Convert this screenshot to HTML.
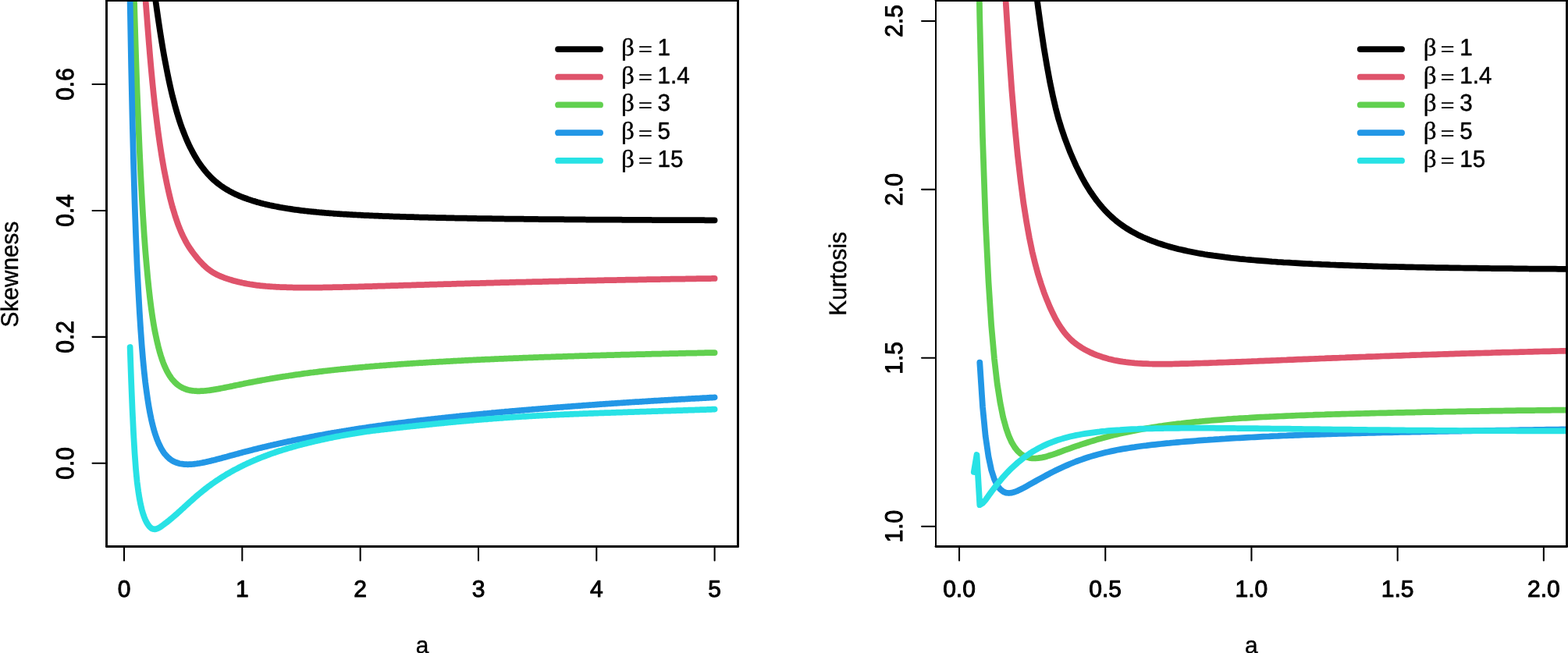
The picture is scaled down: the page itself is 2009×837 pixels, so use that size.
<!DOCTYPE html>
<html><head><meta charset="utf-8"><title>Skewness and Kurtosis</title>
<style>
html,body{margin:0;padding:0;background:#fff;}
body{width:2009px;height:837px;overflow:hidden;}
svg{display:block;}
text{font-family:"Liberation Sans",sans-serif;font-size:30px;fill:#000;stroke:#000;stroke-linejoin:round;text-rendering:geometricPrecision;}
.tk{stroke-width:1.0px;}
.ttl{font-size:29.8px;stroke-width:0.4px;}
.num{font-size:29.6px;stroke-width:0.5px;}
.eq{font-family:"Liberation Serif",serif;font-size:30px;stroke-width:0.5px;}
.beta{font-family:"Liberation Serif",serif;font-size:31.2px;stroke-width:0.4px;}
.c path{fill:none;stroke-width:7.75;stroke-linecap:round;stroke-linejoin:round;}
.ax{stroke:#000;stroke-width:2.05;stroke-linecap:round;fill:none;}
.box line{stroke:#000;stroke-linecap:round;}
.lg line{stroke-width:7.75;stroke-linecap:round;}
</style></head><body>
<svg width="2009" height="837" viewBox="0 0 2009 837">
<rect width="2009" height="837" fill="#fff"/>
<defs>
<clipPath id="cl"><rect x="136.5" y="0.55" width="809.0" height="700.0"/></clipPath>
<clipPath id="cr"><rect x="1199.03" y="0.5" width="808.47" height="699.95"/></clipPath>
</defs>

<g class="c" clip-path="url(#cl)">
<path d="M187.5,-90.0 L187.8,-88.1 L189.3,-76.4 L190.8,-64.6 L192.3,-52.7 L193.8,-40.8 L195.3,-29.1 L196.8,-17.6 L198.3,-6.3 L199.9,4.7 L201.4,15.4 L202.9,25.7 L204.4,35.8 L205.9,45.5 L207.4,54.8 L208.9,63.8 L210.4,72.4 L212.0,80.7 L213.5,88.6 L215.0,96.2 L216.5,103.5 L218.0,110.4 L219.5,117.0 L221.0,123.3 L222.6,129.3 L224.1,135.0 L225.6,140.4 L227.1,145.6 L228.6,150.5 L230.1,155.2 L231.6,159.7 L233.1,163.9 L234.7,168.0 L236.2,171.9 L237.7,175.6 L239.2,179.2 L240.7,182.6 L242.2,185.9 L243.7,189.0 L245.3,192.0 L246.8,194.9 L248.3,197.6 L249.8,200.3 L251.3,202.8 L252.8,205.2 L254.3,207.6 L255.8,209.8 L257.4,212.0 L258.9,214.0 L260.4,216.0 L261.9,217.9 L263.4,219.8 L264.9,221.5 L266.4,223.2 L268.0,224.8 L269.5,226.4 L271.0,227.9 L272.5,229.4 L274.0,230.8 L275.5,232.1 L277.0,233.4 L278.5,234.6 L280.1,235.8 L281.6,237.0 L283.1,238.1 L284.6,239.1 L286.1,240.2 L287.6,241.1 L289.1,242.1 L290.6,243.0 L292.2,243.9 L293.7,244.8 L295.2,245.6 L296.7,246.4 L298.2,247.2 L299.7,247.9 L301.2,248.7 L302.8,249.4 L304.3,250.0 L305.8,250.7 L307.3,251.4 L308.8,252.0 L310.3,252.6 L311.8,253.2 L313.3,253.7 L314.9,254.3 L316.4,254.8 L317.9,255.4 L319.4,255.9 L320.9,256.4 L322.4,256.9 L323.9,257.4 L325.5,257.8 L327.0,258.3 L328.5,258.7 L330.0,259.2 L331.5,259.6 L333.0,260.0 L334.5,260.4 L336.0,260.8 L337.6,261.2 L339.1,261.5 L340.6,261.9 L342.1,262.3 L343.6,262.6 L345.1,263.0 L346.6,263.3 L348.1,263.6 L349.7,263.9 L351.2,264.2 L352.7,264.5 L354.2,264.8 L355.7,265.1 L357.2,265.4 L358.7,265.7 L360.3,266.0 L361.8,266.2 L363.3,266.5 L364.8,266.7 L366.3,267.0 L367.8,267.2 L369.3,267.5 L370.8,267.7 L372.4,267.9 L373.9,268.1 L375.4,268.4 L376.9,268.6 L378.4,268.8 L379.9,269.0 L381.4,269.2 L383.0,269.4 L384.5,269.6 L386.0,269.8 L387.5,270.0 L389.0,270.1 L390.5,270.3 L392.0,270.5 L393.5,270.6 L395.1,270.8 L396.6,271.0 L398.1,271.1 L399.6,271.3 L401.1,271.4 L402.6,271.6 L404.1,271.7 L405.7,271.9 L407.2,272.0 L408.7,272.2 L410.2,272.3 L411.7,272.4 L413.2,272.6 L414.7,272.7 L416.2,272.8 L417.8,273.0 L419.3,273.1 L420.8,273.2 L422.3,273.3 L423.8,273.4 L425.3,273.5 L426.8,273.6 L428.3,273.8 L429.9,273.9 L431.4,274.0 L432.9,274.1 L434.4,274.2 L435.9,274.3 L437.4,274.4 L438.9,274.5 L440.5,274.6 L442.0,274.7 L443.5,274.7 L445.0,274.8 L446.5,274.9 L448.0,275.0 L449.5,275.1 L451.0,275.2 L452.6,275.3 L454.1,275.3 L455.6,275.4 L457.1,275.5 L458.6,275.6 L460.1,275.7 L461.6,275.7 L463.2,275.8 L464.7,275.9 L466.2,276.0 L467.7,276.0 L469.2,276.1 L470.7,276.2 L472.2,276.2 L473.7,276.3 L475.3,276.4 L476.8,276.4 L478.3,276.5 L479.8,276.6 L481.3,276.6 L482.8,276.7 L484.3,276.7 L485.9,276.8 L487.4,276.9 L488.9,276.9 L490.4,277.0 L491.9,277.0 L493.4,277.1 L494.9,277.1 L496.4,277.2 L498.0,277.2 L499.5,277.3 L501.0,277.4 L502.5,277.4 L504.0,277.5 L505.5,277.5 L507.0,277.6 L508.5,277.6 L510.1,277.7 L511.6,277.7 L513.1,277.8 L514.6,277.8 L516.1,277.8 L517.6,277.9 L519.1,277.9 L520.7,278.0 L522.2,278.0 L523.7,278.1 L525.2,278.1 L526.7,278.2 L528.2,278.2 L529.7,278.2 L531.2,278.3 L532.8,278.3 L534.3,278.4 L535.8,278.4 L537.3,278.5 L538.8,278.5 L540.3,278.5 L541.8,278.6 L543.4,278.6 L544.9,278.6 L546.4,278.7 L547.9,278.7 L549.4,278.8 L550.9,278.8 L552.4,278.8 L553.9,278.9 L555.5,278.9 L557.0,278.9 L558.5,279.0 L560.0,279.0 L561.5,279.0 L563.0,279.1 L564.5,279.1 L566.1,279.1 L567.6,279.2 L569.1,279.2 L570.6,279.2 L572.1,279.3 L573.6,279.3 L575.1,279.3 L576.6,279.4 L578.2,279.4 L579.7,279.4 L581.2,279.4 L582.7,279.5 L584.2,279.5 L585.7,279.5 L587.2,279.6 L588.7,279.6 L590.3,279.6 L591.8,279.6 L593.3,279.7 L594.8,279.7 L596.3,279.7 L597.8,279.7 L599.3,279.8 L600.9,279.8 L602.4,279.8 L603.9,279.8 L605.4,279.9 L606.9,279.9 L608.4,279.9 L609.9,279.9 L611.4,280.0 L613.0,280.0 L614.5,280.0 L616.0,280.0 L617.5,280.1 L619.0,280.1 L620.5,280.1 L622.0,280.1 L623.6,280.2 L625.1,280.2 L626.6,280.2 L628.1,280.2 L629.6,280.2 L631.1,280.3 L632.6,280.3 L634.1,280.3 L635.7,280.3 L637.2,280.3 L638.7,280.4 L640.2,280.4 L641.7,280.4 L643.2,280.4 L644.7,280.4 L646.3,280.5 L647.8,280.5 L649.3,280.5 L650.8,280.5 L652.3,280.5 L653.8,280.6 L655.3,280.6 L656.8,280.6 L658.4,280.6 L659.9,280.6 L661.4,280.6 L662.9,280.7 L664.4,280.7 L665.9,280.7 L667.4,280.7 L668.9,280.7 L670.5,280.7 L672.0,280.8 L673.5,280.8 L675.0,280.8 L676.5,280.8 L678.0,280.8 L679.5,280.8 L681.1,280.9 L682.6,280.9 L684.1,280.9 L685.6,280.9 L687.1,280.9 L688.6,280.9 L690.1,281.0 L691.6,281.0 L693.2,281.0 L694.7,281.0 L696.2,281.0 L697.7,281.0 L699.2,281.0 L700.7,281.1 L702.2,281.1 L703.8,281.1 L705.3,281.1 L706.8,281.1 L708.3,281.1 L709.8,281.1 L711.3,281.1 L712.8,281.2 L714.3,281.2 L715.9,281.2 L717.4,281.2 L718.9,281.2 L720.4,281.2 L721.9,281.2 L723.4,281.3 L724.9,281.3 L726.4,281.3 L728.0,281.3 L729.5,281.3 L731.0,281.3 L732.5,281.3 L734.0,281.3 L735.5,281.3 L737.0,281.4 L738.6,281.4 L740.1,281.4 L741.6,281.4 L743.1,281.4 L744.6,281.4 L746.1,281.4 L747.6,281.4 L749.1,281.4 L750.7,281.5 L752.2,281.5 L753.7,281.5 L755.2,281.5 L756.7,281.5 L758.2,281.5 L759.7,281.5 L761.3,281.5 L762.8,281.5 L764.3,281.6 L765.8,281.6 L767.3,281.6 L768.8,281.6 L770.3,281.6 L771.8,281.6 L773.4,281.6 L774.9,281.6 L776.4,281.6 L777.9,281.6 L779.4,281.6 L780.9,281.7 L782.4,281.7 L784.0,281.7 L785.5,281.7 L787.0,281.7 L788.5,281.7 L790.0,281.7 L791.5,281.7 L793.0,281.7 L794.5,281.7 L796.1,281.7 L797.6,281.8 L799.1,281.8 L800.6,281.8 L802.1,281.8 L803.6,281.8 L805.1,281.8 L806.6,281.8 L808.2,281.8 L809.7,281.8 L811.2,281.8 L812.7,281.8 L814.2,281.8 L815.7,281.9 L817.2,281.9 L818.8,281.9 L820.3,281.9 L821.8,281.9 L823.3,281.9 L824.8,281.9 L826.3,281.9 L827.8,281.9 L829.3,281.9 L830.9,281.9 L832.4,281.9 L833.9,281.9 L835.4,282.0 L836.9,282.0 L838.4,282.0 L839.9,282.0 L841.5,282.0 L843.0,282.0 L844.5,282.0 L846.0,282.0 L847.5,282.0 L849.0,282.0 L850.5,282.0 L852.0,282.0 L853.6,282.0 L855.1,282.1 L856.6,282.1 L858.1,282.1 L859.6,282.1 L861.1,282.1 L862.6,282.1 L864.2,282.1 L865.7,282.1 L867.2,282.1 L868.7,282.1 L870.2,282.1 L871.7,282.1 L873.2,282.1 L874.7,282.1 L876.3,282.1 L877.8,282.1 L879.3,282.2 L880.8,282.2 L882.3,282.2 L883.8,282.2 L885.3,282.2 L886.8,282.2 L888.4,282.2 L889.9,282.2 L891.4,282.2 L892.9,282.2 L894.4,282.2 L895.9,282.2 L897.4,282.2 L899.0,282.2 L900.5,282.2 L902.0,282.2 L903.5,282.3 L905.0,282.3 L906.5,282.3 L908.0,282.3 L909.5,282.3 L911.1,282.3 L912.6,282.3 L914.1,282.3 L915.6,282.3" stroke="#000000"/>
<path d="M179.6,-90.0 L180.2,-83.4 L181.7,-64.9 L183.2,-44.9 L184.7,-24.4 L186.2,-3.8 L187.8,16.5 L189.3,36.2 L190.8,55.0 L192.3,73.0 L193.8,89.9 L195.3,105.8 L196.8,120.6 L198.3,134.5 L199.9,147.5 L201.4,159.6 L202.9,171.0 L204.4,181.8 L205.9,191.8 L207.4,201.3 L208.9,210.2 L210.4,218.6 L212.0,226.5 L213.5,234.0 L215.0,241.0 L216.5,247.7 L218.0,254.0 L219.5,259.9 L221.0,265.5 L222.6,270.7 L224.1,275.7 L225.6,280.3 L227.1,284.7 L228.6,288.9 L230.1,292.7 L231.6,296.4 L233.1,299.8 L234.7,303.1 L236.2,306.1 L237.7,309.0 L239.2,311.7 L240.7,314.2 L242.2,316.6 L243.7,318.9 L245.3,321.1 L246.8,323.2 L248.3,325.2 L249.8,327.2 L251.3,329.1 L252.8,330.9 L254.3,332.7 L255.8,334.4 L257.4,336.1 L258.9,337.7 L260.4,339.3 L261.9,340.7 L263.4,342.1 L264.9,343.5 L266.4,344.7 L268.0,345.9 L269.5,347.0 L271.0,348.0 L272.5,349.0 L274.0,349.9 L275.5,350.8 L277.0,351.5 L278.5,352.3 L280.1,353.0 L281.6,353.7 L283.1,354.3 L284.6,354.9 L286.1,355.5 L287.6,356.1 L289.1,356.6 L290.6,357.1 L292.2,357.6 L293.7,358.1 L295.2,358.6 L296.7,359.0 L298.2,359.5 L299.7,359.9 L301.2,360.3 L302.8,360.7 L304.3,361.1 L305.8,361.4 L307.3,361.8 L308.8,362.1 L310.3,362.5 L311.8,362.8 L313.3,363.1 L314.9,363.4 L316.4,363.7 L317.9,364.0 L319.4,364.2 L320.9,364.5 L322.4,364.7 L323.9,364.9 L325.5,365.2 L327.0,365.4 L328.5,365.6 L330.0,365.8 L331.5,365.9 L333.0,366.1 L334.5,366.3 L336.0,366.4 L337.6,366.6 L339.1,366.7 L340.6,366.9 L342.1,367.0 L343.6,367.1 L345.1,367.2 L346.6,367.3 L348.1,367.4 L349.7,367.5 L351.2,367.6 L352.7,367.7 L354.2,367.8 L355.7,367.8 L357.2,367.9 L358.7,368.0 L360.3,368.0 L361.8,368.1 L363.3,368.1 L364.8,368.2 L366.3,368.2 L367.8,368.3 L369.3,368.3 L370.8,368.4 L372.4,368.4 L373.9,368.4 L375.4,368.5 L376.9,368.5 L378.4,368.5 L379.9,368.5 L381.4,368.5 L383.0,368.6 L384.5,368.6 L386.0,368.6 L387.5,368.6 L389.0,368.6 L390.5,368.6 L392.0,368.6 L393.5,368.6 L395.1,368.6 L396.6,368.6 L398.1,368.6 L399.6,368.6 L401.1,368.6 L402.6,368.6 L404.1,368.6 L405.7,368.5 L407.2,368.5 L408.7,368.5 L410.2,368.5 L411.7,368.5 L413.2,368.5 L414.7,368.4 L416.2,368.4 L417.8,368.4 L419.3,368.4 L420.8,368.3 L422.3,368.3 L423.8,368.3 L425.3,368.3 L426.8,368.2 L428.3,368.2 L429.9,368.2 L431.4,368.1 L432.9,368.1 L434.4,368.1 L435.9,368.0 L437.4,368.0 L438.9,368.0 L440.5,367.9 L442.0,367.9 L443.5,367.9 L445.0,367.8 L446.5,367.8 L448.0,367.8 L449.5,367.7 L451.0,367.7 L452.6,367.6 L454.1,367.6 L455.6,367.6 L457.1,367.5 L458.6,367.5 L460.1,367.4 L461.6,367.4 L463.2,367.3 L464.7,367.3 L466.2,367.3 L467.7,367.2 L469.2,367.2 L470.7,367.1 L472.2,367.1 L473.7,367.0 L475.3,367.0 L476.8,367.0 L478.3,366.9 L479.8,366.9 L481.3,366.8 L482.8,366.8 L484.3,366.7 L485.9,366.7 L487.4,366.6 L488.9,366.6 L490.4,366.5 L491.9,366.5 L493.4,366.5 L494.9,366.4 L496.4,366.4 L498.0,366.3 L499.5,366.3 L501.0,366.2 L502.5,366.2 L504.0,366.1 L505.5,366.1 L507.0,366.0 L508.5,366.0 L510.1,366.0 L511.6,365.9 L513.1,365.9 L514.6,365.8 L516.1,365.8 L517.6,365.7 L519.1,365.7 L520.7,365.6 L522.2,365.6 L523.7,365.5 L525.2,365.5 L526.7,365.5 L528.2,365.4 L529.7,365.4 L531.2,365.3 L532.8,365.3 L534.3,365.2 L535.8,365.2 L537.3,365.1 L538.8,365.1 L540.3,365.0 L541.8,365.0 L543.4,365.0 L544.9,364.9 L546.4,364.9 L547.9,364.8 L549.4,364.8 L550.9,364.7 L552.4,364.7 L553.9,364.6 L555.5,364.6 L557.0,364.6 L558.5,364.5 L560.0,364.5 L561.5,364.4 L563.0,364.4 L564.5,364.3 L566.1,364.3 L567.6,364.3 L569.1,364.2 L570.6,364.2 L572.1,364.1 L573.6,364.1 L575.1,364.0 L576.6,364.0 L578.2,364.0 L579.7,363.9 L581.2,363.9 L582.7,363.8 L584.2,363.8 L585.7,363.7 L587.2,363.7 L588.7,363.7 L590.3,363.6 L591.8,363.6 L593.3,363.5 L594.8,363.5 L596.3,363.4 L597.8,363.4 L599.3,363.4 L600.9,363.3 L602.4,363.3 L603.9,363.2 L605.4,363.2 L606.9,363.2 L608.4,363.1 L609.9,363.1 L611.4,363.0 L613.0,363.0 L614.5,363.0 L616.0,362.9 L617.5,362.9 L619.0,362.8 L620.5,362.8 L622.0,362.8 L623.6,362.7 L625.1,362.7 L626.6,362.6 L628.1,362.6 L629.6,362.6 L631.1,362.5 L632.6,362.5 L634.1,362.4 L635.7,362.4 L637.2,362.4 L638.7,362.3 L640.2,362.3 L641.7,362.2 L643.2,362.2 L644.7,362.2 L646.3,362.1 L647.8,362.1 L649.3,362.0 L650.8,362.0 L652.3,362.0 L653.8,361.9 L655.3,361.9 L656.8,361.9 L658.4,361.8 L659.9,361.8 L661.4,361.7 L662.9,361.7 L664.4,361.7 L665.9,361.6 L667.4,361.6 L668.9,361.6 L670.5,361.5 L672.0,361.5 L673.5,361.5 L675.0,361.4 L676.5,361.4 L678.0,361.3 L679.5,361.3 L681.1,361.3 L682.6,361.2 L684.1,361.2 L685.6,361.2 L687.1,361.1 L688.6,361.1 L690.1,361.1 L691.6,361.0 L693.2,361.0 L694.7,361.0 L696.2,360.9 L697.7,360.9 L699.2,360.8 L700.7,360.8 L702.2,360.8 L703.8,360.7 L705.3,360.7 L706.8,360.7 L708.3,360.6 L709.8,360.6 L711.3,360.6 L712.8,360.5 L714.3,360.5 L715.9,360.5 L717.4,360.4 L718.9,360.4 L720.4,360.4 L721.9,360.3 L723.4,360.3 L724.9,360.3 L726.4,360.2 L728.0,360.2 L729.5,360.2 L731.0,360.1 L732.5,360.1 L734.0,360.1 L735.5,360.0 L737.0,360.0 L738.6,360.0 L740.1,360.0 L741.6,359.9 L743.1,359.9 L744.6,359.9 L746.1,359.8 L747.6,359.8 L749.1,359.8 L750.7,359.7 L752.2,359.7 L753.7,359.7 L755.2,359.6 L756.7,359.6 L758.2,359.6 L759.7,359.5 L761.3,359.5 L762.8,359.5 L764.3,359.5 L765.8,359.4 L767.3,359.4 L768.8,359.4 L770.3,359.3 L771.8,359.3 L773.4,359.3 L774.9,359.2 L776.4,359.2 L777.9,359.2 L779.4,359.2 L780.9,359.1 L782.4,359.1 L784.0,359.1 L785.5,359.0 L787.0,359.0 L788.5,359.0 L790.0,359.0 L791.5,358.9 L793.0,358.9 L794.5,358.9 L796.1,358.8 L797.6,358.8 L799.1,358.8 L800.6,358.8 L802.1,358.7 L803.6,358.7 L805.1,358.7 L806.6,358.6 L808.2,358.6 L809.7,358.6 L811.2,358.6 L812.7,358.5 L814.2,358.5 L815.7,358.5 L817.2,358.5 L818.8,358.4 L820.3,358.4 L821.8,358.4 L823.3,358.4 L824.8,358.3 L826.3,358.3 L827.8,358.3 L829.3,358.2 L830.9,358.2 L832.4,358.2 L833.9,358.2 L835.4,358.1 L836.9,358.1 L838.4,358.1 L839.9,358.1 L841.5,358.0 L843.0,358.0 L844.5,358.0 L846.0,358.0 L847.5,357.9 L849.0,357.9 L850.5,357.9 L852.0,357.9 L853.6,357.8 L855.1,357.8 L856.6,357.8 L858.1,357.8 L859.6,357.7 L861.1,357.7 L862.6,357.7 L864.2,357.7 L865.7,357.6 L867.2,357.6 L868.7,357.6 L870.2,357.6 L871.7,357.6 L873.2,357.5 L874.7,357.5 L876.3,357.5 L877.8,357.5 L879.3,357.4 L880.8,357.4 L882.3,357.4 L883.8,357.4 L885.3,357.3 L886.8,357.3 L888.4,357.3 L889.9,357.3 L891.4,357.3 L892.9,357.2 L894.4,357.2 L895.9,357.2 L897.4,357.2 L899.0,357.1 L900.5,357.1 L902.0,357.1 L903.5,357.1 L905.0,357.1 L906.5,357.0 L908.0,357.0 L909.5,357.0 L911.1,357.0 L912.6,356.9 L914.1,356.9 L915.6,356.9" stroke="#DF536B"/>
<path d="M169.6,-90.0 L171.1,-31.1 L172.6,22.8 L174.1,71.6 L175.6,115.6 L177.2,155.2 L178.7,190.8 L180.2,222.7 L181.7,251.5 L183.2,277.3 L184.7,300.4 L186.2,321.1 L187.8,339.6 L189.3,356.1 L190.8,370.7 L192.3,383.8 L193.8,395.5 L195.3,406.0 L196.8,415.4 L198.3,423.9 L199.9,431.5 L201.4,438.4 L202.9,444.7 L204.4,450.3 L205.9,455.4 L207.4,460.1 L208.9,464.3 L210.4,468.1 L212.0,471.6 L213.5,474.8 L215.0,477.6 L216.5,480.2 L218.0,482.6 L219.5,484.7 L221.0,486.7 L222.6,488.4 L224.1,490.0 L225.6,491.5 L227.1,492.8 L228.6,493.9 L230.1,495.0 L231.6,495.9 L233.1,496.7 L234.7,497.5 L236.2,498.1 L237.7,498.7 L239.2,499.2 L240.7,499.7 L242.2,500.0 L243.7,500.4 L245.3,500.6 L246.8,500.8 L248.3,501.0 L249.8,501.1 L251.3,501.2 L252.8,501.3 L254.3,501.3 L255.8,501.3 L257.4,501.2 L258.9,501.2 L260.4,501.1 L261.9,501.0 L263.4,500.8 L264.9,500.7 L266.4,500.5 L268.0,500.3 L269.5,500.1 L271.0,499.9 L272.5,499.7 L274.0,499.4 L275.5,499.2 L277.0,498.9 L278.5,498.7 L280.1,498.4 L281.6,498.1 L283.1,497.8 L284.6,497.5 L286.1,497.2 L287.6,496.9 L289.1,496.6 L290.6,496.3 L292.2,496.0 L293.7,495.7 L295.2,495.4 L296.7,495.1 L298.2,494.8 L299.7,494.4 L301.2,494.1 L302.8,493.8 L304.3,493.5 L305.8,493.2 L307.3,492.9 L308.8,492.6 L310.3,492.3 L311.8,492.0 L313.3,491.6 L314.9,491.3 L316.4,491.0 L317.9,490.7 L319.4,490.4 L320.9,490.1 L322.4,489.9 L323.9,489.6 L325.5,489.3 L327.0,489.0 L328.5,488.7 L330.0,488.4 L331.5,488.1 L333.0,487.9 L334.5,487.6 L336.0,487.3 L337.6,487.0 L339.1,486.8 L340.6,486.5 L342.1,486.2 L343.6,486.0 L345.1,485.7 L346.6,485.4 L348.1,485.2 L349.7,484.9 L351.2,484.7 L352.7,484.4 L354.2,484.2 L355.7,483.9 L357.2,483.7 L358.7,483.4 L360.3,483.2 L361.8,482.9 L363.3,482.7 L364.8,482.5 L366.3,482.2 L367.8,482.0 L369.3,481.8 L370.8,481.5 L372.4,481.3 L373.9,481.1 L375.4,480.9 L376.9,480.6 L378.4,480.4 L379.9,480.2 L381.4,480.0 L383.0,479.8 L384.5,479.6 L386.0,479.4 L387.5,479.1 L389.0,478.9 L390.5,478.7 L392.0,478.5 L393.5,478.3 L395.1,478.1 L396.6,477.9 L398.1,477.7 L399.6,477.5 L401.1,477.4 L402.6,477.2 L404.1,477.0 L405.7,476.8 L407.2,476.6 L408.7,476.4 L410.2,476.2 L411.7,476.1 L413.2,475.9 L414.7,475.7 L416.2,475.5 L417.8,475.3 L419.3,475.2 L420.8,475.0 L422.3,474.8 L423.8,474.7 L425.3,474.5 L426.8,474.3 L428.3,474.2 L429.9,474.0 L431.4,473.8 L432.9,473.7 L434.4,473.5 L435.9,473.4 L437.4,473.2 L438.9,473.1 L440.5,472.9 L442.0,472.8 L443.5,472.6 L445.0,472.5 L446.5,472.3 L448.0,472.2 L449.5,472.0 L451.0,471.9 L452.6,471.7 L454.1,471.6 L455.6,471.4 L457.1,471.3 L458.6,471.2 L460.1,471.0 L461.6,470.9 L463.2,470.8 L464.7,470.6 L466.2,470.5 L467.7,470.4 L469.2,470.2 L470.7,470.1 L472.2,470.0 L473.7,469.8 L475.3,469.7 L476.8,469.6 L478.3,469.5 L479.8,469.3 L481.3,469.2 L482.8,469.1 L484.3,469.0 L485.9,468.9 L487.4,468.7 L488.9,468.6 L490.4,468.5 L491.9,468.4 L493.4,468.3 L494.9,468.2 L496.4,468.0 L498.0,467.9 L499.5,467.8 L501.0,467.7 L502.5,467.6 L504.0,467.5 L505.5,467.4 L507.0,467.3 L508.5,467.2 L510.1,467.0 L511.6,466.9 L513.1,466.8 L514.6,466.7 L516.1,466.6 L517.6,466.5 L519.1,466.4 L520.7,466.3 L522.2,466.2 L523.7,466.1 L525.2,466.0 L526.7,465.9 L528.2,465.8 L529.7,465.7 L531.2,465.6 L532.8,465.5 L534.3,465.4 L535.8,465.3 L537.3,465.2 L538.8,465.1 L540.3,465.0 L541.8,465.0 L543.4,464.9 L544.9,464.8 L546.4,464.7 L547.9,464.6 L549.4,464.5 L550.9,464.4 L552.4,464.3 L553.9,464.2 L555.5,464.1 L557.0,464.0 L558.5,464.0 L560.0,463.9 L561.5,463.8 L563.0,463.7 L564.5,463.6 L566.1,463.5 L567.6,463.5 L569.1,463.4 L570.6,463.3 L572.1,463.2 L573.6,463.1 L575.1,463.0 L576.6,463.0 L578.2,462.9 L579.7,462.8 L581.2,462.7 L582.7,462.6 L584.2,462.6 L585.7,462.5 L587.2,462.4 L588.7,462.3 L590.3,462.3 L591.8,462.2 L593.3,462.1 L594.8,462.0 L596.3,461.9 L597.8,461.9 L599.3,461.8 L600.9,461.7 L602.4,461.7 L603.9,461.6 L605.4,461.5 L606.9,461.4 L608.4,461.4 L609.9,461.3 L611.4,461.2 L613.0,461.1 L614.5,461.1 L616.0,461.0 L617.5,460.9 L619.0,460.9 L620.5,460.8 L622.0,460.7 L623.6,460.7 L625.1,460.6 L626.6,460.5 L628.1,460.5 L629.6,460.4 L631.1,460.3 L632.6,460.3 L634.1,460.2 L635.7,460.1 L637.2,460.1 L638.7,460.0 L640.2,459.9 L641.7,459.9 L643.2,459.8 L644.7,459.8 L646.3,459.7 L647.8,459.6 L649.3,459.6 L650.8,459.5 L652.3,459.4 L653.8,459.4 L655.3,459.3 L656.8,459.3 L658.4,459.2 L659.9,459.1 L661.4,459.1 L662.9,459.0 L664.4,459.0 L665.9,458.9 L667.4,458.8 L668.9,458.8 L670.5,458.7 L672.0,458.7 L673.5,458.6 L675.0,458.6 L676.5,458.5 L678.0,458.4 L679.5,458.4 L681.1,458.3 L682.6,458.3 L684.1,458.2 L685.6,458.2 L687.1,458.1 L688.6,458.1 L690.1,458.0 L691.6,457.9 L693.2,457.9 L694.7,457.8 L696.2,457.8 L697.7,457.7 L699.2,457.7 L700.7,457.6 L702.2,457.6 L703.8,457.5 L705.3,457.5 L706.8,457.4 L708.3,457.4 L709.8,457.3 L711.3,457.3 L712.8,457.2 L714.3,457.2 L715.9,457.1 L717.4,457.1 L718.9,457.0 L720.4,457.0 L721.9,456.9 L723.4,456.9 L724.9,456.8 L726.4,456.8 L728.0,456.7 L729.5,456.7 L731.0,456.6 L732.5,456.6 L734.0,456.5 L735.5,456.5 L737.0,456.4 L738.6,456.4 L740.1,456.3 L741.6,456.3 L743.1,456.2 L744.6,456.2 L746.1,456.2 L747.6,456.1 L749.1,456.1 L750.7,456.0 L752.2,456.0 L753.7,455.9 L755.2,455.9 L756.7,455.8 L758.2,455.8 L759.7,455.7 L761.3,455.7 L762.8,455.7 L764.3,455.6 L765.8,455.6 L767.3,455.5 L768.8,455.5 L770.3,455.4 L771.8,455.4 L773.4,455.4 L774.9,455.3 L776.4,455.3 L777.9,455.2 L779.4,455.2 L780.9,455.1 L782.4,455.1 L784.0,455.1 L785.5,455.0 L787.0,455.0 L788.5,454.9 L790.0,454.9 L791.5,454.9 L793.0,454.8 L794.5,454.8 L796.1,454.7 L797.6,454.7 L799.1,454.7 L800.6,454.6 L802.1,454.6 L803.6,454.5 L805.1,454.5 L806.6,454.5 L808.2,454.4 L809.7,454.4 L811.2,454.3 L812.7,454.3 L814.2,454.3 L815.7,454.2 L817.2,454.2 L818.8,454.2 L820.3,454.1 L821.8,454.1 L823.3,454.0 L824.8,454.0 L826.3,454.0 L827.8,453.9 L829.3,453.9 L830.9,453.9 L832.4,453.8 L833.9,453.8 L835.4,453.7 L836.9,453.7 L838.4,453.7 L839.9,453.6 L841.5,453.6 L843.0,453.6 L844.5,453.5 L846.0,453.5 L847.5,453.5 L849.0,453.4 L850.5,453.4 L852.0,453.4 L853.6,453.3 L855.1,453.3 L856.6,453.3 L858.1,453.2 L859.6,453.2 L861.1,453.1 L862.6,453.1 L864.2,453.1 L865.7,453.0 L867.2,453.0 L868.7,453.0 L870.2,452.9 L871.7,452.9 L873.2,452.9 L874.7,452.8 L876.3,452.8 L877.8,452.8 L879.3,452.7 L880.8,452.7 L882.3,452.7 L883.8,452.7 L885.3,452.6 L886.8,452.6 L888.4,452.6 L889.9,452.5 L891.4,452.5 L892.9,452.5 L894.4,452.4 L895.9,452.4 L897.4,452.4 L899.0,452.3 L900.5,452.3 L902.0,452.3 L903.5,452.2 L905.0,452.2 L906.5,452.2 L908.0,452.2 L909.5,452.1 L911.1,452.1 L912.6,452.1 L914.1,452.0 L915.6,452.0" stroke="#61D04F"/>
<path d="M165.2,-90.0 L166.6,0.1 L168.1,83.2 L169.6,152.6 L171.1,211.0 L172.6,260.6 L174.1,303.1 L175.6,339.7 L177.2,371.2 L178.7,398.6 L180.2,422.3 L181.7,443.0 L183.2,460.9 L184.7,476.4 L186.2,490.0 L187.8,502.0 L189.3,512.5 L190.8,521.8 L192.3,530.0 L193.8,537.3 L195.3,543.8 L196.8,549.6 L198.3,554.8 L199.9,559.4 L201.4,563.6 L202.9,567.3 L204.4,570.6 L205.9,573.6 L207.4,576.3 L208.9,578.7 L210.4,580.9 L212.0,582.8 L213.5,584.5 L215.0,586.0 L216.5,587.4 L218.0,588.6 L219.5,589.7 L221.0,590.6 L222.6,591.5 L224.1,592.2 L225.6,592.8 L227.1,593.3 L228.6,593.8 L230.1,594.2 L231.6,594.5 L233.1,594.7 L234.7,594.9 L236.2,595.1 L237.7,595.2 L239.2,595.2 L240.7,595.3 L242.2,595.2 L243.7,595.2 L245.3,595.1 L246.8,595.0 L248.3,594.8 L249.8,594.6 L251.3,594.5 L252.8,594.2 L254.3,594.0 L255.8,593.8 L257.4,593.5 L258.9,593.2 L260.4,592.9 L261.9,592.6 L263.4,592.3 L264.9,591.9 L266.4,591.6 L268.0,591.2 L269.5,590.9 L271.0,590.5 L272.5,590.1 L274.0,589.8 L275.5,589.4 L277.0,589.0 L278.5,588.6 L280.1,588.2 L281.6,587.8 L283.1,587.4 L284.6,587.0 L286.1,586.6 L287.6,586.2 L289.1,585.8 L290.6,585.4 L292.2,584.9 L293.7,584.5 L295.2,584.1 L296.7,583.7 L298.2,583.3 L299.7,582.9 L301.2,582.5 L302.8,582.1 L304.3,581.7 L305.8,581.2 L307.3,580.8 L308.8,580.4 L310.3,580.0 L311.8,579.6 L313.3,579.2 L314.9,578.8 L316.4,578.4 L317.9,578.1 L319.4,577.7 L320.9,577.3 L322.4,576.9 L323.9,576.5 L325.5,576.1 L327.0,575.7 L328.5,575.4 L330.0,575.0 L331.5,574.6 L333.0,574.2 L334.5,573.9 L336.0,573.5 L337.6,573.1 L339.1,572.8 L340.6,572.4 L342.1,572.1 L343.6,571.7 L345.1,571.3 L346.6,571.0 L348.1,570.6 L349.7,570.3 L351.2,569.9 L352.7,569.6 L354.2,569.3 L355.7,568.9 L357.2,568.6 L358.7,568.2 L360.3,567.9 L361.8,567.6 L363.3,567.2 L364.8,566.9 L366.3,566.6 L367.8,566.2 L369.3,565.9 L370.8,565.6 L372.4,565.3 L373.9,565.0 L375.4,564.6 L376.9,564.3 L378.4,564.0 L379.9,563.7 L381.4,563.4 L383.0,563.1 L384.5,562.8 L386.0,562.5 L387.5,562.2 L389.0,561.9 L390.5,561.6 L392.0,561.3 L393.5,561.0 L395.1,560.7 L396.6,560.4 L398.1,560.1 L399.6,559.8 L401.1,559.5 L402.6,559.2 L404.1,558.9 L405.7,558.7 L407.2,558.4 L408.7,558.1 L410.2,557.8 L411.7,557.5 L413.2,557.3 L414.7,557.0 L416.2,556.7 L417.8,556.4 L419.3,556.2 L420.8,555.9 L422.3,555.6 L423.8,555.4 L425.3,555.1 L426.8,554.8 L428.3,554.6 L429.9,554.3 L431.4,554.1 L432.9,553.8 L434.4,553.6 L435.9,553.3 L437.4,553.1 L438.9,552.8 L440.5,552.6 L442.0,552.3 L443.5,552.1 L445.0,551.8 L446.5,551.6 L448.0,551.3 L449.5,551.1 L451.0,550.8 L452.6,550.6 L454.1,550.4 L455.6,550.1 L457.1,549.9 L458.6,549.7 L460.1,549.4 L461.6,549.2 L463.2,549.0 L464.7,548.7 L466.2,548.5 L467.7,548.3 L469.2,548.1 L470.7,547.8 L472.2,547.6 L473.7,547.4 L475.3,547.2 L476.8,547.0 L478.3,546.7 L479.8,546.5 L481.3,546.3 L482.8,546.1 L484.3,545.9 L485.9,545.7 L487.4,545.5 L488.9,545.3 L490.4,545.0 L491.9,544.8 L493.4,544.6 L494.9,544.4 L496.4,544.2 L498.0,544.0 L499.5,543.8 L501.0,543.6 L502.5,543.4 L504.0,543.2 L505.5,543.0 L507.0,542.8 L508.5,542.6 L510.1,542.4 L511.6,542.2 L513.1,542.0 L514.6,541.8 L516.1,541.7 L517.6,541.5 L519.1,541.3 L520.7,541.1 L522.2,540.9 L523.7,540.7 L525.2,540.5 L526.7,540.3 L528.2,540.2 L529.7,540.0 L531.2,539.8 L532.8,539.6 L534.3,539.4 L535.8,539.2 L537.3,539.1 L538.8,538.9 L540.3,538.7 L541.8,538.5 L543.4,538.3 L544.9,538.2 L546.4,538.0 L547.9,537.8 L549.4,537.6 L550.9,537.5 L552.4,537.3 L553.9,537.1 L555.5,537.0 L557.0,536.8 L558.5,536.6 L560.0,536.5 L561.5,536.3 L563.0,536.1 L564.5,536.0 L566.1,535.8 L567.6,535.6 L569.1,535.5 L570.6,535.3 L572.1,535.1 L573.6,535.0 L575.1,534.8 L576.6,534.6 L578.2,534.5 L579.7,534.3 L581.2,534.2 L582.7,534.0 L584.2,533.9 L585.7,533.7 L587.2,533.5 L588.7,533.4 L590.3,533.2 L591.8,533.1 L593.3,532.9 L594.8,532.8 L596.3,532.6 L597.8,532.5 L599.3,532.3 L600.9,532.2 L602.4,532.0 L603.9,531.9 L605.4,531.7 L606.9,531.6 L608.4,531.4 L609.9,531.3 L611.4,531.1 L613.0,531.0 L614.5,530.8 L616.0,530.7 L617.5,530.5 L619.0,530.4 L620.5,530.2 L622.0,530.1 L623.6,530.0 L625.1,529.8 L626.6,529.7 L628.1,529.5 L629.6,529.4 L631.1,529.2 L632.6,529.1 L634.1,529.0 L635.7,528.8 L637.2,528.7 L638.7,528.6 L640.2,528.4 L641.7,528.3 L643.2,528.1 L644.7,528.0 L646.3,527.9 L647.8,527.7 L649.3,527.6 L650.8,527.5 L652.3,527.3 L653.8,527.2 L655.3,527.1 L656.8,526.9 L658.4,526.8 L659.9,526.7 L661.4,526.5 L662.9,526.4 L664.4,526.3 L665.9,526.1 L667.4,526.0 L668.9,525.9 L670.5,525.8 L672.0,525.6 L673.5,525.5 L675.0,525.4 L676.5,525.3 L678.0,525.1 L679.5,525.0 L681.1,524.9 L682.6,524.7 L684.1,524.6 L685.6,524.5 L687.1,524.4 L688.6,524.3 L690.1,524.1 L691.6,524.0 L693.2,523.9 L694.7,523.8 L696.2,523.6 L697.7,523.5 L699.2,523.4 L700.7,523.3 L702.2,523.2 L703.8,523.0 L705.3,522.9 L706.8,522.8 L708.3,522.7 L709.8,522.6 L711.3,522.4 L712.8,522.3 L714.3,522.2 L715.9,522.1 L717.4,522.0 L718.9,521.9 L720.4,521.8 L721.9,521.6 L723.4,521.5 L724.9,521.4 L726.4,521.3 L728.0,521.2 L729.5,521.1 L731.0,521.0 L732.5,520.8 L734.0,520.7 L735.5,520.6 L737.0,520.5 L738.6,520.4 L740.1,520.3 L741.6,520.2 L743.1,520.1 L744.6,520.0 L746.1,519.8 L747.6,519.7 L749.1,519.6 L750.7,519.5 L752.2,519.4 L753.7,519.3 L755.2,519.2 L756.7,519.1 L758.2,519.0 L759.7,518.9 L761.3,518.8 L762.8,518.7 L764.3,518.6 L765.8,518.4 L767.3,518.3 L768.8,518.2 L770.3,518.1 L771.8,518.0 L773.4,517.9 L774.9,517.8 L776.4,517.7 L777.9,517.6 L779.4,517.5 L780.9,517.4 L782.4,517.3 L784.0,517.2 L785.5,517.1 L787.0,517.0 L788.5,516.9 L790.0,516.8 L791.5,516.7 L793.0,516.6 L794.5,516.5 L796.1,516.4 L797.6,516.3 L799.1,516.2 L800.6,516.1 L802.1,516.0 L803.6,515.9 L805.1,515.8 L806.6,515.7 L808.2,515.6 L809.7,515.5 L811.2,515.4 L812.7,515.3 L814.2,515.2 L815.7,515.1 L817.2,515.0 L818.8,515.0 L820.3,514.9 L821.8,514.8 L823.3,514.7 L824.8,514.6 L826.3,514.5 L827.8,514.4 L829.3,514.3 L830.9,514.2 L832.4,514.1 L833.9,514.0 L835.4,513.9 L836.9,513.8 L838.4,513.7 L839.9,513.7 L841.5,513.6 L843.0,513.5 L844.5,513.4 L846.0,513.3 L847.5,513.2 L849.0,513.1 L850.5,513.0 L852.0,512.9 L853.6,512.8 L855.1,512.8 L856.6,512.7 L858.1,512.6 L859.6,512.5 L861.1,512.4 L862.6,512.3 L864.2,512.2 L865.7,512.1 L867.2,512.1 L868.7,512.0 L870.2,511.9 L871.7,511.8 L873.2,511.7 L874.7,511.6 L876.3,511.5 L877.8,511.5 L879.3,511.4 L880.8,511.3 L882.3,511.2 L883.8,511.1 L885.3,511.0 L886.8,510.9 L888.4,510.9 L889.9,510.8 L891.4,510.7 L892.9,510.6 L894.4,510.5 L895.9,510.5 L897.4,510.4 L899.0,510.3 L900.5,510.2 L902.0,510.1 L903.5,510.0 L905.0,510.0 L906.5,509.9 L908.0,509.8 L909.5,509.7 L911.1,509.6 L912.6,509.6 L914.1,509.5 L915.6,509.4" stroke="#2297E6"/>
<path d="M166.6,445.0 L168.1,487.9 L169.6,525.2 L171.1,556.2 L172.6,581.5 L174.1,601.7 L175.6,617.4 L177.2,629.6 L178.7,639.1 L180.2,646.7 L181.7,653.0 L183.2,658.2 L184.7,662.6 L186.2,666.3 L187.8,669.5 L189.3,672.0 L190.8,674.1 L192.3,675.8 L193.8,677.0 L195.3,677.8 L196.8,678.2 L198.3,678.3 L199.9,678.1 L201.4,677.6 L202.9,676.9 L204.4,676.1 L205.9,675.2 L207.4,674.1 L208.9,673.0 L210.4,671.9 L212.0,670.7 L213.5,669.6 L215.0,668.4 L216.5,667.2 L218.0,665.9 L219.5,664.7 L221.0,663.4 L222.6,662.1 L224.1,660.8 L225.6,659.5 L227.1,658.2 L228.6,656.8 L230.1,655.5 L231.6,654.1 L233.1,652.7 L234.7,651.3 L236.2,649.9 L237.7,648.5 L239.2,647.1 L240.7,645.8 L242.2,644.4 L243.7,643.0 L245.3,641.7 L246.8,640.3 L248.3,639.0 L249.8,637.6 L251.3,636.3 L252.8,635.0 L254.3,633.7 L255.8,632.5 L257.4,631.2 L258.9,630.0 L260.4,628.8 L261.9,627.6 L263.4,626.4 L264.9,625.2 L266.4,624.0 L268.0,622.9 L269.5,621.8 L271.0,620.7 L272.5,619.6 L274.0,618.6 L275.5,617.5 L277.0,616.5 L278.5,615.5 L280.1,614.5 L281.6,613.5 L283.1,612.5 L284.6,611.5 L286.1,610.6 L287.6,609.7 L289.1,608.8 L290.6,607.8 L292.2,607.0 L293.7,606.1 L295.2,605.2 L296.7,604.4 L298.2,603.5 L299.7,602.7 L301.2,601.9 L302.8,601.1 L304.3,600.3 L305.8,599.5 L307.3,598.7 L308.8,598.0 L310.3,597.2 L311.8,596.5 L313.3,595.7 L314.9,595.0 L316.4,594.3 L317.9,593.6 L319.4,592.9 L320.9,592.2 L322.4,591.6 L323.9,590.9 L325.5,590.2 L327.0,589.6 L328.5,589.0 L330.0,588.3 L331.5,587.7 L333.0,587.1 L334.5,586.5 L336.0,585.9 L337.6,585.3 L339.1,584.7 L340.6,584.2 L342.1,583.6 L343.6,583.0 L345.1,582.5 L346.6,581.9 L348.1,581.4 L349.7,580.9 L351.2,580.4 L352.7,579.8 L354.2,579.3 L355.7,578.8 L357.2,578.3 L358.7,577.8 L360.3,577.4 L361.8,576.9 L363.3,576.4 L364.8,575.9 L366.3,575.5 L367.8,575.0 L369.3,574.6 L370.8,574.1 L372.4,573.7 L373.9,573.2 L375.4,572.8 L376.9,572.4 L378.4,572.0 L379.9,571.6 L381.4,571.1 L383.0,570.7 L384.5,570.3 L386.0,569.9 L387.5,569.5 L389.0,569.1 L390.5,568.8 L392.0,568.4 L393.5,568.0 L395.1,567.6 L396.6,567.3 L398.1,566.9 L399.6,566.5 L401.1,566.2 L402.6,565.8 L404.1,565.5 L405.7,565.1 L407.2,564.8 L408.7,564.4 L410.2,564.1 L411.7,563.7 L413.2,563.4 L414.7,563.1 L416.2,562.8 L417.8,562.4 L419.3,562.1 L420.8,561.8 L422.3,561.5 L423.8,561.2 L425.3,560.9 L426.8,560.5 L428.3,560.2 L429.9,559.9 L431.4,559.6 L432.9,559.3 L434.4,559.1 L435.9,558.8 L437.4,558.5 L438.9,558.2 L440.5,557.9 L442.0,557.6 L443.5,557.4 L445.0,557.1 L446.5,556.8 L448.0,556.6 L449.5,556.3 L451.0,556.1 L452.6,555.8 L454.1,555.6 L455.6,555.3 L457.1,555.1 L458.6,554.8 L460.1,554.6 L461.6,554.4 L463.2,554.1 L464.7,553.9 L466.2,553.7 L467.7,553.5 L469.2,553.2 L470.7,553.0 L472.2,552.8 L473.7,552.6 L475.3,552.4 L476.8,552.2 L478.3,552.0 L479.8,551.8 L481.3,551.6 L482.8,551.5 L484.3,551.3 L485.9,551.1 L487.4,550.9 L488.9,550.7 L490.4,550.6 L491.9,550.4 L493.4,550.2 L494.9,550.1 L496.4,549.9 L498.0,549.7 L499.5,549.6 L501.0,549.4 L502.5,549.2 L504.0,549.0 L505.5,548.9 L507.0,548.7 L508.5,548.5 L510.1,548.4 L511.6,548.2 L513.1,548.0 L514.6,547.9 L516.1,547.7 L517.6,547.5 L519.1,547.4 L520.7,547.2 L522.2,547.0 L523.7,546.9 L525.2,546.7 L526.7,546.5 L528.2,546.4 L529.7,546.2 L531.2,546.1 L532.8,545.9 L534.3,545.7 L535.8,545.6 L537.3,545.4 L538.8,545.2 L540.3,545.1 L541.8,544.9 L543.4,544.8 L544.9,544.6 L546.4,544.4 L547.9,544.3 L549.4,544.1 L550.9,544.0 L552.4,543.8 L553.9,543.7 L555.5,543.5 L557.0,543.3 L558.5,543.2 L560.0,543.0 L561.5,542.9 L563.0,542.7 L564.5,542.6 L566.1,542.4 L567.6,542.3 L569.1,542.1 L570.6,542.0 L572.1,541.8 L573.6,541.7 L575.1,541.5 L576.6,541.4 L578.2,541.2 L579.7,541.1 L581.2,541.0 L582.7,540.8 L584.2,540.7 L585.7,540.5 L587.2,540.4 L588.7,540.2 L590.3,540.1 L591.8,540.0 L593.3,539.8 L594.8,539.7 L596.3,539.6 L597.8,539.4 L599.3,539.3 L600.9,539.2 L602.4,539.0 L603.9,538.9 L605.4,538.8 L606.9,538.6 L608.4,538.5 L609.9,538.4 L611.4,538.2 L613.0,538.1 L614.5,538.0 L616.0,537.9 L617.5,537.7 L619.0,537.6 L620.5,537.5 L622.0,537.4 L623.6,537.3 L625.1,537.1 L626.6,537.0 L628.1,536.9 L629.6,536.8 L631.1,536.7 L632.6,536.5 L634.1,536.4 L635.7,536.3 L637.2,536.2 L638.7,536.1 L640.2,536.0 L641.7,535.9 L643.2,535.8 L644.7,535.7 L646.3,535.5 L647.8,535.4 L649.3,535.3 L650.8,535.2 L652.3,535.1 L653.8,535.0 L655.3,534.9 L656.8,534.8 L658.4,534.7 L659.9,534.6 L661.4,534.5 L662.9,534.4 L664.4,534.3 L665.9,534.2 L667.4,534.1 L668.9,534.0 L670.5,533.9 L672.0,533.9 L673.5,533.8 L675.0,533.7 L676.5,533.6 L678.0,533.5 L679.5,533.4 L681.1,533.3 L682.6,533.2 L684.1,533.2 L685.6,533.1 L687.1,533.0 L688.6,532.9 L690.1,532.8 L691.6,532.7 L693.2,532.7 L694.7,532.6 L696.2,532.5 L697.7,532.4 L699.2,532.4 L700.7,532.3 L702.2,532.2 L703.8,532.1 L705.3,532.1 L706.8,532.0 L708.3,531.9 L709.8,531.8 L711.3,531.8 L712.8,531.7 L714.3,531.6 L715.9,531.6 L717.4,531.5 L718.9,531.4 L720.4,531.4 L721.9,531.3 L723.4,531.2 L724.9,531.2 L726.4,531.1 L728.0,531.0 L729.5,531.0 L731.0,530.9 L732.5,530.8 L734.0,530.8 L735.5,530.7 L737.0,530.7 L738.6,530.6 L740.1,530.5 L741.6,530.5 L743.1,530.4 L744.6,530.4 L746.1,530.3 L747.6,530.2 L749.1,530.2 L750.7,530.1 L752.2,530.1 L753.7,530.0 L755.2,529.9 L756.7,529.9 L758.2,529.8 L759.7,529.8 L761.3,529.7 L762.8,529.7 L764.3,529.6 L765.8,529.6 L767.3,529.5 L768.8,529.4 L770.3,529.4 L771.8,529.3 L773.4,529.3 L774.9,529.2 L776.4,529.2 L777.9,529.1 L779.4,529.1 L780.9,529.0 L782.4,529.0 L784.0,528.9 L785.5,528.9 L787.0,528.8 L788.5,528.8 L790.0,528.7 L791.5,528.7 L793.0,528.6 L794.5,528.6 L796.1,528.5 L797.6,528.5 L799.1,528.4 L800.6,528.4 L802.1,528.3 L803.6,528.3 L805.1,528.2 L806.6,528.2 L808.2,528.1 L809.7,528.1 L811.2,528.0 L812.7,528.0 L814.2,527.9 L815.7,527.9 L817.2,527.8 L818.8,527.8 L820.3,527.7 L821.8,527.7 L823.3,527.6 L824.8,527.6 L826.3,527.5 L827.8,527.5 L829.3,527.4 L830.9,527.4 L832.4,527.3 L833.9,527.3 L835.4,527.2 L836.9,527.2 L838.4,527.1 L839.9,527.1 L841.5,527.0 L843.0,527.0 L844.5,526.9 L846.0,526.9 L847.5,526.8 L849.0,526.8 L850.5,526.7 L852.0,526.7 L853.6,526.6 L855.1,526.6 L856.6,526.6 L858.1,526.5 L859.6,526.5 L861.1,526.4 L862.6,526.4 L864.2,526.3 L865.7,526.3 L867.2,526.2 L868.7,526.2 L870.2,526.1 L871.7,526.1 L873.2,526.0 L874.7,526.0 L876.3,525.9 L877.8,525.9 L879.3,525.8 L880.8,525.8 L882.3,525.7 L883.8,525.7 L885.3,525.6 L886.8,525.6 L888.4,525.5 L889.9,525.5 L891.4,525.4 L892.9,525.4 L894.4,525.3 L895.9,525.3 L897.4,525.2 L899.0,525.2 L900.5,525.1 L902.0,525.1 L903.5,525.0 L905.0,525.0 L906.5,524.9 L908.0,524.9 L909.5,524.8 L911.1,524.8 L912.6,524.7 L914.1,524.7 L915.6,524.6" stroke="#28E2E5"/>
</g>
<path class="ax" d="M159.00,700.55 L159.00,718.55 M310.32,700.55 L310.32,718.55 M461.64,700.55 L461.64,718.55 M612.96,700.55 L612.96,718.55 M764.28,700.55 L764.28,718.55 M915.60,700.55 L915.60,718.55 M136.5,593.80 L118.50,593.80 M136.5,431.86 L118.50,431.86 M136.5,269.92 L118.50,269.92 M136.5,107.98 L118.50,107.98"/>
<g class="box"><line x1="136.5" y1="0.55" x2="136.5" y2="700.55" stroke-width="2.9"/><line x1="136.5" y1="0.55" x2="945.5" y2="0.55" stroke-width="2.9"/><line x1="945.5" y1="0.55" x2="945.5" y2="700.55" stroke-width="2.95"/><line x1="136.5" y1="700.55" x2="945.5" y2="700.55" stroke-width="2.95"/></g>
<text class="tk" transform="translate(159.0,765.1) scale(1,1.0)" text-anchor="middle">0</text>
<text class="tk" transform="translate(310.3,765.1) scale(1,1.0)" text-anchor="middle">1</text>
<text class="tk" transform="translate(461.6,765.1) scale(1,1.0)" text-anchor="middle">2</text>
<text class="tk" transform="translate(613.0,765.1) scale(1,1.0)" text-anchor="middle">3</text>
<text class="tk" transform="translate(764.3,765.1) scale(1,1.0)" text-anchor="middle">4</text>
<text class="tk" transform="translate(915.6,765.1) scale(1,1.0)" text-anchor="middle">5</text>
<text class="tk" transform="translate(93.9,593.8) rotate(-90) scale(1,1.045)" text-anchor="middle">0.0</text>
<text class="tk" transform="translate(93.9,431.9) rotate(-90) scale(1,1.045)" text-anchor="middle">0.2</text>
<text class="tk" transform="translate(93.9,269.9) rotate(-90) scale(1,1.045)" text-anchor="middle">0.4</text>
<text class="tk" transform="translate(93.9,108.0) rotate(-90) scale(1,1.045)" text-anchor="middle">0.6</text>
<text class="ttl" x="541.0" y="837.2" text-anchor="middle">a</text>
<text class="ttl" transform="translate(22.5,351.50) rotate(-90) scale(1,1.04)" text-anchor="middle">Skewness</text>
<g class="lg">
<line x1="715.0" y1="63.0" x2="769.1" y2="63.0" stroke="#000000"/>
<text class="beta" transform="translate(796.0,70.8) scale(1.06,1.0)">β</text><text class="eq" transform="translate(818.1,73.4) scale(1.05,1)">=</text><text class="num" transform="translate(842.5,70.9) scale(1,1.03)">1</text>
<line x1="715.0" y1="98.7" x2="769.1" y2="98.7" stroke="#DF536B"/>
<text class="beta" transform="translate(796.0,106.5) scale(1.06,1.0)">β</text><text class="eq" transform="translate(818.1,109.1) scale(1.05,1)">=</text><text class="num" transform="translate(842.5,106.6) scale(1,1.03)">1.4</text>
<line x1="715.0" y1="134.4" x2="769.1" y2="134.4" stroke="#61D04F"/>
<text class="beta" transform="translate(796.0,142.2) scale(1.06,1.0)">β</text><text class="eq" transform="translate(818.1,144.8) scale(1.05,1)">=</text><text class="num" transform="translate(842.5,142.3) scale(1,1.03)">3</text>
<line x1="715.0" y1="170.2" x2="769.1" y2="170.2" stroke="#2297E6"/>
<text class="beta" transform="translate(796.0,178.0) scale(1.06,1.0)">β</text><text class="eq" transform="translate(818.1,180.6) scale(1.05,1)">=</text><text class="num" transform="translate(842.5,178.1) scale(1,1.03)">5</text>
<line x1="715.0" y1="205.9" x2="769.1" y2="205.9" stroke="#28E2E5"/>
<text class="beta" transform="translate(796.0,213.7) scale(1.06,1.0)">β</text><text class="eq" transform="translate(818.1,216.3) scale(1.05,1)">=</text><text class="num" transform="translate(842.5,213.8) scale(1,1.03)">15</text>
</g>
<g class="c" clip-path="url(#cr)">
<path d="M1318.0,-90.0 L1318.9,-82.2 L1322.6,-50.2 L1326.4,-19.1 L1330.1,10.1 L1333.9,37.2 L1337.6,61.9 L1341.4,84.3 L1345.1,104.6 L1348.9,122.7 L1352.6,138.7 L1356.3,152.7 L1360.1,164.9 L1363.8,175.8 L1367.6,186.0 L1371.3,195.5 L1375.1,204.3 L1378.8,212.6 L1382.6,220.3 L1386.3,227.5 L1390.0,234.2 L1393.8,240.5 L1397.5,246.3 L1401.3,251.8 L1405.0,256.9 L1408.8,261.6 L1412.5,266.0 L1416.2,270.1 L1420.0,274.0 L1423.7,277.5 L1427.5,280.9 L1431.2,284.0 L1435.0,286.9 L1438.7,289.5 L1442.5,292.1 L1446.2,294.4 L1449.9,296.6 L1453.7,298.7 L1457.4,300.7 L1461.2,302.5 L1464.9,304.2 L1468.7,305.8 L1472.4,307.4 L1476.2,308.8 L1479.9,310.2 L1483.6,311.6 L1487.4,312.8 L1491.1,314.0 L1494.9,315.1 L1498.6,316.2 L1502.4,317.3 L1506.1,318.2 L1509.8,319.2 L1513.6,320.1 L1517.3,320.9 L1521.1,321.8 L1524.8,322.5 L1528.6,323.3 L1532.3,324.0 L1536.1,324.7 L1539.8,325.3 L1543.5,326.0 L1547.3,326.6 L1551.0,327.1 L1554.8,327.7 L1558.5,328.2 L1562.3,328.7 L1566.0,329.2 L1569.8,329.7 L1573.5,330.1 L1577.2,330.6 L1581.0,331.0 L1584.7,331.4 L1588.5,331.8 L1592.2,332.1 L1596.0,332.5 L1599.7,332.8 L1603.4,333.2 L1607.2,333.5 L1610.9,333.8 L1614.7,334.1 L1618.4,334.4 L1622.2,334.7 L1625.9,335.0 L1629.7,335.3 L1633.4,335.5 L1637.1,335.8 L1640.9,336.0 L1644.6,336.3 L1648.4,336.5 L1652.1,336.7 L1655.9,337.0 L1659.6,337.2 L1663.4,337.4 L1667.1,337.6 L1670.8,337.8 L1674.6,338.0 L1678.3,338.2 L1682.1,338.4 L1685.8,338.5 L1689.6,338.7 L1693.3,338.9 L1697.0,339.0 L1700.8,339.2 L1704.5,339.4 L1708.3,339.5 L1712.0,339.7 L1715.8,339.8 L1719.5,339.9 L1723.3,340.1 L1727.0,340.2 L1730.7,340.3 L1734.5,340.5 L1738.2,340.6 L1742.0,340.7 L1745.7,340.8 L1749.5,340.9 L1753.2,341.1 L1757.0,341.2 L1760.7,341.3 L1764.4,341.4 L1768.2,341.5 L1771.9,341.6 L1775.7,341.7 L1779.4,341.8 L1783.2,341.9 L1786.9,341.9 L1790.6,342.0 L1794.4,342.1 L1798.1,342.2 L1801.9,342.3 L1805.6,342.4 L1809.4,342.4 L1813.1,342.5 L1816.9,342.6 L1820.6,342.7 L1824.3,342.7 L1828.1,342.8 L1831.8,342.9 L1835.6,342.9 L1839.3,343.0 L1843.1,343.0 L1846.8,343.1 L1850.6,343.2 L1854.3,343.2 L1858.0,343.3 L1861.8,343.3 L1865.5,343.4 L1869.3,343.4 L1873.0,343.5 L1876.8,343.6 L1880.5,343.6 L1884.2,343.7 L1888.0,343.7 L1891.7,343.7 L1895.5,343.8 L1899.2,343.8 L1903.0,343.9 L1906.7,343.9 L1910.5,344.0 L1914.2,344.0 L1917.9,344.0 L1921.7,344.1 L1925.4,344.1 L1929.2,344.2 L1932.9,344.2 L1936.7,344.2 L1940.4,344.3 L1944.2,344.3 L1947.9,344.4 L1951.6,344.4 L1955.4,344.4 L1959.1,344.5 L1962.9,344.5 L1966.6,344.5 L1970.4,344.6 L1974.1,344.6 L1977.8,344.6 L1981.6,344.6 L1985.3,344.7 L1989.1,344.7 L1992.8,344.7 L1996.6,344.8 L2000.3,344.8 L2004.1,344.8 L2007.8,344.8 L2011.5,344.9 L2015.3,344.9 L2019.0,344.9 L2022.8,345.0 L2026.5,345.0" stroke="#000000"/>
<path d="M1283.0,-90.0 L1285.2,-53.2 L1289.0,7.7 L1292.7,64.9 L1296.4,116.4 L1300.2,161.4 L1303.9,199.7 L1307.7,232.4 L1311.4,260.4 L1315.2,284.4 L1318.9,305.0 L1322.6,322.8 L1326.4,338.3 L1330.1,351.9 L1333.9,364.0 L1337.6,374.8 L1341.4,384.6 L1345.1,393.5 L1348.9,401.6 L1352.6,408.9 L1356.3,415.4 L1360.1,421.1 L1363.8,426.2 L1367.6,430.7 L1371.3,434.6 L1375.1,438.0 L1378.8,440.9 L1382.6,443.6 L1386.3,446.0 L1390.0,448.1 L1393.8,450.1 L1397.5,451.9 L1401.3,453.6 L1405.0,455.1 L1408.8,456.4 L1412.5,457.7 L1416.2,458.8 L1420.0,459.9 L1423.7,460.8 L1427.5,461.7 L1431.2,462.4 L1435.0,463.1 L1438.7,463.7 L1442.5,464.2 L1446.2,464.6 L1449.9,465.0 L1453.7,465.4 L1457.4,465.7 L1461.2,465.9 L1464.9,466.1 L1468.7,466.2 L1472.4,466.4 L1476.2,466.5 L1479.9,466.5 L1483.6,466.6 L1487.4,466.6 L1491.1,466.6 L1494.9,466.5 L1498.6,466.5 L1502.4,466.5 L1506.1,466.4 L1509.8,466.3 L1513.6,466.2 L1517.3,466.1 L1521.1,466.1 L1524.8,466.0 L1528.6,465.8 L1532.3,465.7 L1536.1,465.6 L1539.8,465.5 L1543.5,465.4 L1547.3,465.3 L1551.0,465.1 L1554.8,465.0 L1558.5,464.9 L1562.3,464.7 L1566.0,464.6 L1569.8,464.5 L1573.5,464.3 L1577.2,464.2 L1581.0,464.1 L1584.7,463.9 L1588.5,463.8 L1592.2,463.6 L1596.0,463.5 L1599.7,463.3 L1603.4,463.2 L1607.2,463.0 L1610.9,462.9 L1614.7,462.7 L1618.4,462.6 L1622.2,462.4 L1625.9,462.3 L1629.7,462.1 L1633.4,462.0 L1637.1,461.8 L1640.9,461.7 L1644.6,461.5 L1648.4,461.4 L1652.1,461.2 L1655.9,461.1 L1659.6,460.9 L1663.4,460.7 L1667.1,460.6 L1670.8,460.4 L1674.6,460.3 L1678.3,460.1 L1682.1,460.0 L1685.8,459.8 L1689.6,459.7 L1693.3,459.5 L1697.0,459.4 L1700.8,459.2 L1704.5,459.1 L1708.3,458.9 L1712.0,458.8 L1715.8,458.7 L1719.5,458.5 L1723.3,458.4 L1727.0,458.2 L1730.7,458.1 L1734.5,457.9 L1738.2,457.8 L1742.0,457.6 L1745.7,457.5 L1749.5,457.4 L1753.2,457.2 L1757.0,457.1 L1760.7,457.0 L1764.4,456.8 L1768.2,456.7 L1771.9,456.5 L1775.7,456.4 L1779.4,456.3 L1783.2,456.1 L1786.9,456.0 L1790.6,455.9 L1794.4,455.8 L1798.1,455.6 L1801.9,455.5 L1805.6,455.4 L1809.4,455.2 L1813.1,455.1 L1816.9,455.0 L1820.6,454.9 L1824.3,454.7 L1828.1,454.6 L1831.8,454.5 L1835.6,454.4 L1839.3,454.3 L1843.1,454.1 L1846.8,454.0 L1850.6,453.9 L1854.3,453.8 L1858.0,453.7 L1861.8,453.6 L1865.5,453.4 L1869.3,453.3 L1873.0,453.2 L1876.8,453.1 L1880.5,453.0 L1884.2,452.9 L1888.0,452.8 L1891.7,452.7 L1895.5,452.6 L1899.2,452.5 L1903.0,452.4 L1906.7,452.3 L1910.5,452.2 L1914.2,452.0 L1917.9,451.9 L1921.7,451.8 L1925.4,451.7 L1929.2,451.6 L1932.9,451.6 L1936.7,451.5 L1940.4,451.4 L1944.2,451.3 L1947.9,451.2 L1951.6,451.1 L1955.4,451.0 L1959.1,450.9 L1962.9,450.8 L1966.6,450.7 L1970.4,450.6 L1974.1,450.5 L1977.8,450.4 L1981.6,450.4 L1985.3,450.3 L1989.1,450.2 L1992.8,450.1 L1996.6,450.0 L2000.3,449.9 L2004.1,449.8 L2007.8,449.8 L2011.5,449.7 L2015.3,449.6 L2019.0,449.5 L2022.8,449.4 L2026.5,449.4" stroke="#DF536B"/>
<path d="M1253.1,-90.0 L1255.3,25.1 L1259.0,176.1 L1262.7,283.3 L1266.5,360.7 L1270.2,417.7 L1274.0,460.1 L1277.7,492.1 L1281.5,516.3 L1285.2,534.7 L1289.0,548.6 L1292.7,559.2 L1296.4,567.3 L1300.2,573.5 L1303.9,578.2 L1307.7,581.6 L1311.4,584.1 L1315.2,585.8 L1318.9,586.8 L1322.6,587.4 L1326.4,587.5 L1330.1,587.2 L1333.9,586.7 L1337.6,585.9 L1341.4,584.9 L1345.1,583.8 L1348.9,582.6 L1352.6,581.3 L1356.3,580.0 L1360.1,578.6 L1363.8,577.2 L1367.6,575.9 L1371.3,574.6 L1375.1,573.2 L1378.8,571.9 L1382.6,570.7 L1386.3,569.4 L1390.0,568.2 L1393.8,567.0 L1397.5,565.9 L1401.3,564.7 L1405.0,563.6 L1408.8,562.6 L1412.5,561.5 L1416.2,560.5 L1420.0,559.5 L1423.7,558.6 L1427.5,557.6 L1431.2,556.7 L1435.0,555.8 L1438.7,555.0 L1442.5,554.2 L1446.2,553.4 L1449.9,552.6 L1453.7,551.9 L1457.4,551.2 L1461.2,550.5 L1464.9,549.8 L1468.7,549.1 L1472.4,548.5 L1476.2,547.9 L1479.9,547.3 L1483.6,546.7 L1487.4,546.2 L1491.1,545.6 L1494.9,545.1 L1498.6,544.6 L1502.4,544.1 L1506.1,543.7 L1509.8,543.2 L1513.6,542.8 L1517.3,542.3 L1521.1,541.9 L1524.8,541.5 L1528.6,541.1 L1532.3,540.7 L1536.1,540.4 L1539.8,540.0 L1543.5,539.7 L1547.3,539.3 L1551.0,539.0 L1554.8,538.7 L1558.5,538.4 L1562.3,538.1 L1566.0,537.8 L1569.8,537.5 L1573.5,537.2 L1577.2,537.0 L1581.0,536.7 L1584.7,536.5 L1588.5,536.2 L1592.2,536.0 L1596.0,535.8 L1599.7,535.6 L1603.4,535.3 L1607.2,535.1 L1610.9,534.9 L1614.7,534.7 L1618.4,534.5 L1622.2,534.3 L1625.9,534.2 L1629.7,534.0 L1633.4,533.8 L1637.1,533.6 L1640.9,533.5 L1644.6,533.3 L1648.4,533.1 L1652.1,533.0 L1655.9,532.8 L1659.6,532.7 L1663.4,532.5 L1667.1,532.4 L1670.8,532.3 L1674.6,532.1 L1678.3,532.0 L1682.1,531.9 L1685.8,531.7 L1689.6,531.6 L1693.3,531.5 L1697.0,531.4 L1700.8,531.2 L1704.5,531.1 L1708.3,531.0 L1712.0,530.9 L1715.8,530.8 L1719.5,530.7 L1723.3,530.6 L1727.0,530.5 L1730.7,530.4 L1734.5,530.3 L1738.2,530.2 L1742.0,530.1 L1745.7,530.0 L1749.5,529.9 L1753.2,529.8 L1757.0,529.7 L1760.7,529.6 L1764.4,529.5 L1768.2,529.4 L1771.9,529.4 L1775.7,529.3 L1779.4,529.2 L1783.2,529.1 L1786.9,529.0 L1790.6,528.9 L1794.4,528.9 L1798.1,528.8 L1801.9,528.7 L1805.6,528.6 L1809.4,528.5 L1813.1,528.5 L1816.9,528.4 L1820.6,528.3 L1824.3,528.2 L1828.1,528.2 L1831.8,528.1 L1835.6,528.0 L1839.3,528.0 L1843.1,527.9 L1846.8,527.8 L1850.6,527.7 L1854.3,527.7 L1858.0,527.6 L1861.8,527.5 L1865.5,527.5 L1869.3,527.4 L1873.0,527.3 L1876.8,527.3 L1880.5,527.2 L1884.2,527.1 L1888.0,527.1 L1891.7,527.0 L1895.5,527.0 L1899.2,526.9 L1903.0,526.8 L1906.7,526.8 L1910.5,526.7 L1914.2,526.7 L1917.9,526.6 L1921.7,526.5 L1925.4,526.5 L1929.2,526.4 L1932.9,526.4 L1936.7,526.3 L1940.4,526.3 L1944.2,526.2 L1947.9,526.2 L1951.6,526.1 L1955.4,526.1 L1959.1,526.0 L1962.9,526.0 L1966.6,526.0 L1970.4,525.9 L1974.1,525.9 L1977.8,525.8 L1981.6,525.8 L1985.3,525.8 L1989.1,525.7 L1992.8,525.7 L1996.6,525.6 L2000.3,525.6 L2004.1,525.6 L2007.8,525.6 L2011.5,525.5 L2015.3,525.5 L2019.0,525.5 L2022.8,525.4 L2026.5,525.4" stroke="#61D04F"/>
<path d="M1255.3,464.7 L1259.0,521.3 L1262.7,559.3 L1266.5,585.1 L1270.2,602.6 L1274.0,614.4 L1277.7,622.2 L1281.5,627.1 L1285.2,630.1 L1289.0,631.6 L1292.7,632.0 L1296.4,631.6 L1300.2,630.5 L1303.9,629.1 L1307.7,627.3 L1311.4,625.4 L1315.2,623.3 L1318.9,621.2 L1322.6,619.1 L1326.4,617.0 L1330.1,614.9 L1333.9,612.8 L1337.6,610.8 L1341.4,608.8 L1345.1,606.8 L1348.9,604.9 L1352.6,603.1 L1356.3,601.3 L1360.1,599.5 L1363.8,597.8 L1367.6,596.1 L1371.3,594.5 L1375.1,593.0 L1378.8,591.5 L1382.6,590.1 L1386.3,588.8 L1390.0,587.5 L1393.8,586.3 L1397.5,585.1 L1401.3,584.0 L1405.0,583.0 L1408.8,581.9 L1412.5,581.0 L1416.2,580.1 L1420.0,579.2 L1423.7,578.4 L1427.5,577.6 L1431.2,576.8 L1435.0,576.1 L1438.7,575.4 L1442.5,574.8 L1446.2,574.2 L1449.9,573.6 L1453.7,573.1 L1457.4,572.5 L1461.2,572.0 L1464.9,571.5 L1468.7,571.1 L1472.4,570.6 L1476.2,570.2 L1479.9,569.8 L1483.6,569.4 L1487.4,569.0 L1491.1,568.6 L1494.9,568.2 L1498.6,567.9 L1502.4,567.5 L1506.1,567.2 L1509.8,566.8 L1513.6,566.5 L1517.3,566.2 L1521.1,565.9 L1524.8,565.6 L1528.6,565.3 L1532.3,565.0 L1536.1,564.7 L1539.8,564.4 L1543.5,564.1 L1547.3,563.9 L1551.0,563.6 L1554.8,563.4 L1558.5,563.1 L1562.3,562.9 L1566.0,562.6 L1569.8,562.4 L1573.5,562.1 L1577.2,561.9 L1581.0,561.7 L1584.7,561.5 L1588.5,561.3 L1592.2,561.1 L1596.0,560.9 L1599.7,560.7 L1603.4,560.5 L1607.2,560.3 L1610.9,560.1 L1614.7,559.9 L1618.4,559.7 L1622.2,559.5 L1625.9,559.4 L1629.7,559.2 L1633.4,559.0 L1637.1,558.9 L1640.9,558.7 L1644.6,558.5 L1648.4,558.4 L1652.1,558.2 L1655.9,558.1 L1659.6,557.9 L1663.4,557.8 L1667.1,557.6 L1670.8,557.5 L1674.6,557.4 L1678.3,557.2 L1682.1,557.1 L1685.8,557.0 L1689.6,556.8 L1693.3,556.7 L1697.0,556.6 L1700.8,556.5 L1704.5,556.4 L1708.3,556.2 L1712.0,556.1 L1715.8,556.0 L1719.5,555.9 L1723.3,555.8 L1727.0,555.7 L1730.7,555.6 L1734.5,555.5 L1738.2,555.4 L1742.0,555.3 L1745.7,555.2 L1749.5,555.1 L1753.2,555.0 L1757.0,554.9 L1760.7,554.8 L1764.4,554.7 L1768.2,554.6 L1771.9,554.5 L1775.7,554.4 L1779.4,554.3 L1783.2,554.3 L1786.9,554.2 L1790.6,554.1 L1794.4,554.0 L1798.1,553.9 L1801.9,553.8 L1805.6,553.8 L1809.4,553.7 L1813.1,553.6 L1816.9,553.5 L1820.6,553.5 L1824.3,553.4 L1828.1,553.3 L1831.8,553.2 L1835.6,553.2 L1839.3,553.1 L1843.1,553.0 L1846.8,552.9 L1850.6,552.9 L1854.3,552.8 L1858.0,552.7 L1861.8,552.7 L1865.5,552.6 L1869.3,552.5 L1873.0,552.5 L1876.8,552.4 L1880.5,552.3 L1884.2,552.3 L1888.0,552.2 L1891.7,552.1 L1895.5,552.1 L1899.2,552.0 L1903.0,551.9 L1906.7,551.9 L1910.5,551.8 L1914.2,551.8 L1917.9,551.7 L1921.7,551.6 L1925.4,551.6 L1929.2,551.5 L1932.9,551.5 L1936.7,551.4 L1940.4,551.3 L1944.2,551.3 L1947.9,551.2 L1951.6,551.2 L1955.4,551.1 L1959.1,551.0 L1962.9,551.0 L1966.6,550.9 L1970.4,550.9 L1974.1,550.8 L1977.8,550.8 L1981.6,550.7 L1985.3,550.7 L1989.1,550.6 L1992.8,550.5 L1996.6,550.5 L2000.3,550.4 L2004.1,550.4 L2007.8,550.3 L2011.5,550.3 L2015.3,550.2 L2019.0,550.2 L2022.8,550.1 L2026.5,550.0" stroke="#2297E6"/>
<path d="M1247.8,605.0 L1251.5,583.0 L1255.3,647.2 L1259.0,645.0 L1262.8,640.7 L1266.5,635.5 L1270.2,630.4 L1274.0,625.4 L1277.7,620.6 L1281.5,616.0 L1285.2,611.6 L1289.0,607.4 L1292.7,603.5 L1296.4,599.8 L1300.2,596.3 L1303.9,593.0 L1307.7,589.9 L1311.4,586.9 L1315.2,584.2 L1318.9,581.6 L1322.6,579.2 L1326.4,577.0 L1330.1,574.9 L1333.9,572.9 L1337.6,571.1 L1341.4,569.4 L1345.1,567.8 L1348.9,566.3 L1352.6,565.0 L1356.3,563.7 L1360.1,562.6 L1363.8,561.5 L1367.6,560.5 L1371.3,559.6 L1375.1,558.7 L1378.8,557.9 L1382.6,557.2 L1386.3,556.5 L1390.0,555.9 L1393.8,555.3 L1397.5,554.8 L1401.3,554.3 L1405.0,553.8 L1408.8,553.4 L1412.5,552.9 L1416.2,552.6 L1420.0,552.2 L1423.7,551.9 L1427.5,551.6 L1431.2,551.3 L1435.0,551.1 L1438.7,550.8 L1442.5,550.6 L1446.2,550.4 L1449.9,550.2 L1453.7,550.0 L1457.4,549.9 L1461.2,549.7 L1464.9,549.6 L1468.7,549.5 L1472.4,549.4 L1476.2,549.3 L1479.9,549.2 L1483.6,549.1 L1487.4,549.0 L1491.1,549.0 L1494.9,548.9 L1498.6,548.9 L1502.4,548.8 L1506.1,548.8 L1509.8,548.8 L1513.6,548.7 L1517.3,548.7 L1521.1,548.7 L1524.8,548.7 L1528.6,548.7 L1532.3,548.7 L1536.1,548.7 L1539.8,548.7 L1543.5,548.7 L1547.3,548.7 L1551.0,548.7 L1554.8,548.7 L1558.5,548.8 L1562.3,548.8 L1566.0,548.8 L1569.8,548.8 L1573.5,548.9 L1577.2,548.9 L1581.0,548.9 L1584.7,549.0 L1588.5,549.0 L1592.2,549.0 L1596.0,549.1 L1599.7,549.1 L1603.4,549.2 L1607.2,549.2 L1610.9,549.2 L1614.7,549.3 L1618.4,549.3 L1622.2,549.4 L1625.9,549.4 L1629.7,549.5 L1633.4,549.5 L1637.1,549.6 L1640.9,549.6 L1644.6,549.6 L1648.4,549.7 L1652.1,549.7 L1655.9,549.8 L1659.6,549.8 L1663.4,549.9 L1667.1,549.9 L1670.8,550.0 L1674.6,550.0 L1678.3,550.1 L1682.1,550.1 L1685.8,550.2 L1689.6,550.2 L1693.3,550.3 L1697.0,550.3 L1700.8,550.4 L1704.5,550.4 L1708.3,550.5 L1712.0,550.5 L1715.8,550.5 L1719.5,550.6 L1723.3,550.6 L1727.0,550.7 L1730.7,550.7 L1734.5,550.8 L1738.2,550.8 L1742.0,550.9 L1745.7,550.9 L1749.5,550.9 L1753.2,551.0 L1757.0,551.0 L1760.7,551.1 L1764.4,551.1 L1768.2,551.1 L1771.9,551.2 L1775.7,551.2 L1779.4,551.2 L1783.2,551.3 L1786.9,551.3 L1790.6,551.4 L1794.4,551.4 L1798.1,551.4 L1801.9,551.5 L1805.6,551.5 L1809.4,551.5 L1813.1,551.6 L1816.9,551.6 L1820.6,551.6 L1824.3,551.6 L1828.1,551.7 L1831.8,551.7 L1835.6,551.7 L1839.3,551.8 L1843.1,551.8 L1846.8,551.8 L1850.6,551.8 L1854.3,551.9 L1858.0,551.9 L1861.8,551.9 L1865.5,551.9 L1869.3,552.0 L1873.0,552.0 L1876.8,552.0 L1880.5,552.0 L1884.2,552.0 L1888.0,552.1 L1891.7,552.1 L1895.5,552.1 L1899.2,552.1 L1903.0,552.1 L1906.7,552.1 L1910.5,552.2 L1914.2,552.2 L1917.9,552.2 L1921.7,552.2 L1925.4,552.2 L1929.2,552.2 L1932.9,552.2 L1936.7,552.2 L1940.4,552.2 L1944.2,552.3 L1947.9,552.3 L1951.6,552.3 L1955.4,552.3 L1959.1,552.3 L1962.9,552.3 L1966.6,552.3 L1970.4,552.3 L1974.1,552.3 L1977.8,552.3 L1981.6,552.3 L1985.3,552.3 L1989.1,552.3 L1992.8,552.3 L1996.6,552.3 L2000.3,552.3 L2004.1,552.3 L2007.8,552.3 L2011.5,552.3 L2015.3,552.3 L2019.0,552.3 L2022.8,552.3 L2026.5,552.3" stroke="#28E2E5"/>
</g>
<path class="ax" d="M1229.05,700.45 L1229.05,718.45 M1416.25,700.45 L1416.25,718.45 M1603.45,700.45 L1603.45,718.45 M1790.65,700.45 L1790.65,718.45 M1977.85,700.45 L1977.85,718.45 M1199.03,674.70 L1181.03,674.70 M1199.03,458.78 L1181.03,458.78 M1199.03,242.85 L1181.03,242.85 M1199.03,26.92 L1181.03,26.92"/>
<g class="box"><line x1="1199.03" y1="0.5" x2="1199.03" y2="700.45" stroke-width="1.95"/><line x1="1199.03" y1="0.5" x2="2007.5" y2="0.5" stroke-width="2.8"/><line x1="2007.5" y1="0.5" x2="2007.5" y2="700.45" stroke-width="2.9"/><line x1="1199.03" y1="700.45" x2="2007.5" y2="700.45" stroke-width="2.85"/></g>
<text class="tk" transform="translate(1229.0,765.1) scale(1,1.0)" text-anchor="middle">0.0</text>
<text class="tk" transform="translate(1416.2,765.1) scale(1,1.0)" text-anchor="middle">0.5</text>
<text class="tk" transform="translate(1603.4,765.1) scale(1,1.0)" text-anchor="middle">1.0</text>
<text class="tk" transform="translate(1790.6,765.1) scale(1,1.0)" text-anchor="middle">1.5</text>
<text class="tk" transform="translate(1977.8,765.1) scale(1,1.0)" text-anchor="middle">2.0</text>
<text class="tk" transform="translate(1155.9,674.7) rotate(-90) scale(1,1.045)" text-anchor="middle">1.0</text>
<text class="tk" transform="translate(1155.9,458.8) rotate(-90) scale(1,1.045)" text-anchor="middle">1.5</text>
<text class="tk" transform="translate(1155.9,242.9) rotate(-90) scale(1,1.045)" text-anchor="middle">2.0</text>
<text class="tk" transform="translate(1155.9,26.9) rotate(-90) scale(1,1.045)" text-anchor="middle">2.5</text>
<text class="ttl" x="1603.3" y="837.2" text-anchor="middle">a</text>
<text class="ttl" transform="translate(1084.4,350.83) rotate(-90) scale(1,1.04)" text-anchor="middle">Kurtosis</text>
<g class="lg">
<line x1="1742.7" y1="63.0" x2="1796.1" y2="63.0" stroke="#000000"/>
<text class="beta" transform="translate(1823.7,70.8) scale(1.06,1.0)">β</text><text class="eq" transform="translate(1845.8,73.4) scale(1.05,1)">=</text><text class="num" transform="translate(1870.2,70.9) scale(1,1.03)">1</text>
<line x1="1742.7" y1="98.7" x2="1796.1" y2="98.7" stroke="#DF536B"/>
<text class="beta" transform="translate(1823.7,106.5) scale(1.06,1.0)">β</text><text class="eq" transform="translate(1845.8,109.1) scale(1.05,1)">=</text><text class="num" transform="translate(1870.2,106.6) scale(1,1.03)">1.4</text>
<line x1="1742.7" y1="134.4" x2="1796.1" y2="134.4" stroke="#61D04F"/>
<text class="beta" transform="translate(1823.7,142.2) scale(1.06,1.0)">β</text><text class="eq" transform="translate(1845.8,144.8) scale(1.05,1)">=</text><text class="num" transform="translate(1870.2,142.3) scale(1,1.03)">3</text>
<line x1="1742.7" y1="170.2" x2="1796.1" y2="170.2" stroke="#2297E6"/>
<text class="beta" transform="translate(1823.7,178.0) scale(1.06,1.0)">β</text><text class="eq" transform="translate(1845.8,180.6) scale(1.05,1)">=</text><text class="num" transform="translate(1870.2,178.1) scale(1,1.03)">5</text>
<line x1="1742.7" y1="205.9" x2="1796.1" y2="205.9" stroke="#28E2E5"/>
<text class="beta" transform="translate(1823.7,213.7) scale(1.06,1.0)">β</text><text class="eq" transform="translate(1845.8,216.3) scale(1.05,1)">=</text><text class="num" transform="translate(1870.2,213.8) scale(1,1.03)">15</text>
</g>
</svg>
</body></html>
